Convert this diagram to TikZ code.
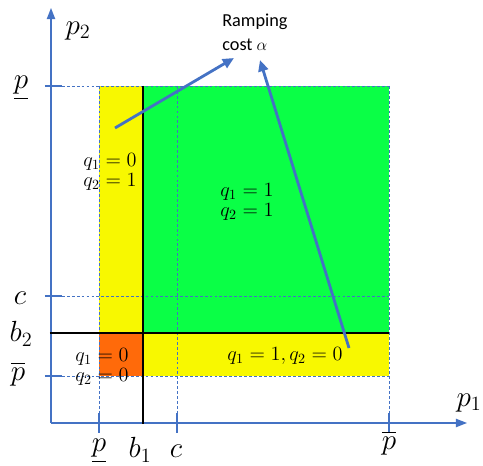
\documentclass[tikz,border=0pt]{standalone}
\usepackage{amsmath}
\usepackage{fontspec}
\newfontfamily\calibrifont{Carlito}
\usetikzlibrary{arrows.meta, positioning}

\definecolor{axisblue}{HTML}{4472C4}
\definecolor{regyellow}{HTML}{F8F800}
\definecolor{reggreen}{HTML}{0AFF46}
\definecolor{regorange}{HTML}{FF6A0A}

\tikzset{
  axis/.style={draw=axisblue, line width=1.1pt, -{Triangle[length=8pt, width=6pt]}},
  tick/.style={draw=axisblue, line width=1.1pt},
  guide/.style={draw=axisblue, line width=0.45pt, dash pattern=on 2pt off 1.5pt},
  border/.style={draw=black, line width=1.8pt},
  pointer/.style={draw=axisblue, line width=2pt, -{Triangle[length=8pt, width=7pt]}},
  axlabel/.style={font=\fontsize{20}{24}\selectfont, inner sep=0pt},
  region/.style={font=\fontsize{14}{14}\selectfont, align=center, inner sep=0pt}
}

\begin{document}
\begin{tikzpicture}[x=0.025cm, y=-0.025cm]
  \useasboundingbox (0,0) rectangle (483,466);

  % regions
  \fill[regyellow] (99,86) rectangle (143,333);
  \fill[regorange] (99,333) rectangle (143,376);
  \fill[reggreen] (143,86) rectangle (389,333);
  \fill[regyellow] (143,333) rectangle (389,376);

  % guide lines
  \foreach \y in {86,296,376}
    \draw[guide] (62,\y) -- (389,\y);
  \foreach \x in {99,177,389}
    \draw[guide] (\x,86) -- (\x,413);

  % axes
  \coordinate (origin) at (51,423);
  \coordinate (xend) at (467,423);
  \coordinate (yend) at (51,8);
  \draw[axis] (origin) -- (xend);
  \draw[axis] (origin) -- (yend);
  \foreach \y in {86,296,376}
    \draw[tick] (45,\y) -- (62,\y);
  \foreach \x in {99,177,389}
    \draw[tick] (\x,413) -- (\x,433);

  % thresholds
  \draw[border] (50,333) -- (389,333);
  \draw[border] (143,86) -- (143,424);

  % axis labels
  \node[axlabel] (ptwo) at (78,31) {$p_2$};
  \node[axlabel] (pone) at (469,403) {$p_1$};
  \node[axlabel] (plowy) at (21,88) {$\underline{p}$};
  \node[axlabel] (cy) at (20,298) {$c$};
  \node[axlabel] (btwo) at (21,334) {$b_2$};
  \node[axlabel] (phighy) at (18,374) {$\overline{p}$};
  \node[axlabel] (plowx) at (99,451) {$\underline{p}$};
  \node[axlabel] (bone) at (140,450) {$b_1$};
  \node[axlabel] (cx) at (176,451) {$c$};
  \node[axlabel] (phighx) at (389,443) {$\overline{p}$};

  % region labels
  \node[region] (qzeroone) at (110,172) {$q_1 = 0$\\$q_2 = 1$};
  \node[region] (qoneone) at (247,202) {$q_1 = 1$\\$q_2 = 1$};
  \node[region] (qzerozero) at (102,367) {$q_1 = 0$\\$q_2 = 0$};
  \node[region] (qonezero) at (285,356) {$q_1 = 1, q_2 = 0$};

  % ramping cost
  \node[anchor=north west, align=left, inner sep=0pt,
        font=\calibrifont\fontsize{13}{17}\selectfont] (ramp) at (222,14)
    {Ramping\\cost $\alpha$};
  \coordinate (fromleft) at (115,128);
  \coordinate (toleft) at (234,58);
  \coordinate (fromright) at (349,348);
  \coordinate (toright) at (260,60);
  \draw[pointer] (fromleft) -- (toleft);
  \draw[pointer] (fromright) -- (toright);
\end{tikzpicture}
\end{document}
